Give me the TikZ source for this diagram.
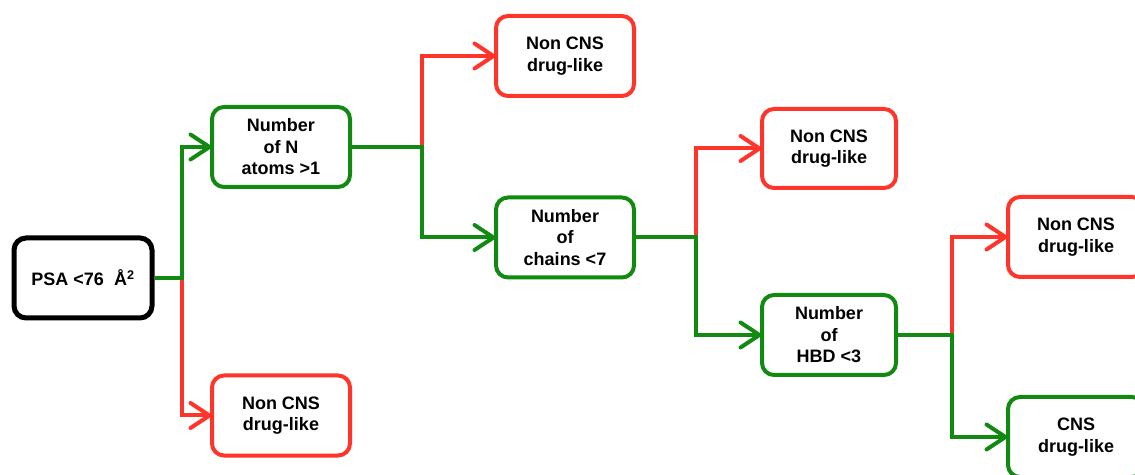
\documentclass[tikz,border=0pt]{standalone}
\usepackage{fontspec}
\setmainfont{Liberation Sans}
\usetikzlibrary{arrows.meta}
\definecolor{cgreen}{RGB}{18,138,18}
\definecolor{cred}{RGB}{255,52,42}
\tikzset{
  box/.style={draw, rounded corners=12pt, line width=4pt, minimum width=138pt, minimum height=80pt,
    align=center, font=\bfseries\fontsize{18}{21.5}\selectfont, fill=white, inner sep=0pt},
  rbox/.style={box, draw=cred},
  gbox/.style={box, draw=cgreen},
  kbox/.style={box, draw=black, line width=5pt},
  conn/.style={line width=4pt, -{Straight Barb[length=19pt,width=25pt,line width=4pt,round]}, shorten >=-1.5pt},
  rconn/.style={conn, draw=cred},
  gconn/.style={conn, draw=cgreen},
}
\begin{document}
\begin{tikzpicture}[x=1pt,y=1pt]
\useasboundingbox (0,0) rectangle (1135,474);
\clip (0,0) rectangle (1135,474);
\node[kbox] (psa) at (83,196) {PSA <76\ \ Å\textsuperscript{2}};
\node[gbox] (natoms) at (281,327) {Number\\of N\\atoms >1};
\node[rbox] (nonA) at (281,58.5) {Non CNS\\drug-like};
\node[rbox] (nonB) at (565,418) {Non CNS\\drug-like};
\node[gbox] (chains) at (565,236.5) {Number\\of\\chains <7};
\node[rbox, minimum width=134pt, minimum height=79pt] (nonC) at (829,325.5) {Non CNS\\drug-like};
\node[gbox, minimum width=134pt] (hbd) at (829,139) {Number\\of\\HBD <3};
\node[rbox, minimum width=136pt] (nonD) at (1076,237) {Non CNS\\drug-like};
\node[gbox, minimum width=136pt] (cns) at (1076,37) {CNS\\drug-like};

\draw[rconn] (psa.east) -- ++(27,0) |- (nonA.west);
\draw[gconn] (psa.east) -- ++(27,0) |- (natoms.west);
\draw[rconn] (natoms.east) -- ++(70,0) |- (nonB.west);
\draw[gconn] (natoms.east) -- ++(70,0) |- (chains.west);
\draw[rconn] (chains.east) -- ++(60,0) |- (nonC.west);
\draw[gconn] (chains.east) -- ++(60,0) |- (hbd.west);
\draw[rconn] (hbd.east) -- ++(54,0) |- (nonD.west);
\draw[gconn] (hbd.east) -- ++(54,0) |- (cns.west);
\end{tikzpicture}
\end{document}
